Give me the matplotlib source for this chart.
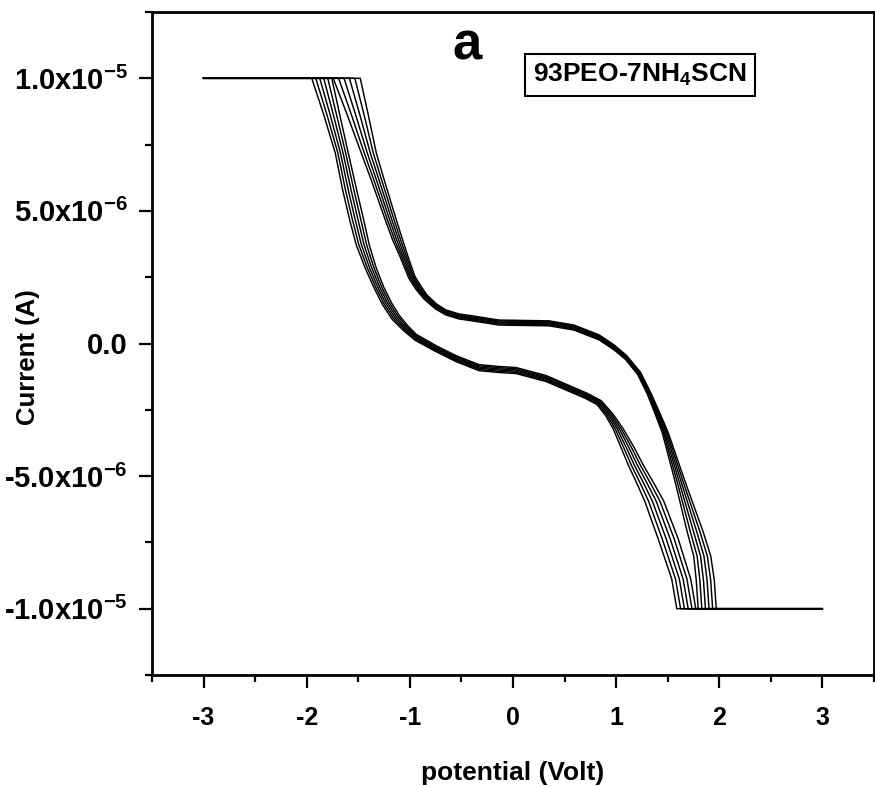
import numpy as np
import matplotlib
matplotlib.use("Agg")
import matplotlib.pyplot as plt
from matplotlib.ticker import MultipleLocator

plt.rcParams['font.family'] = ['Liberation Sans', 'DejaVu Sans']
plt.rcParams['font.weight'] = 'bold'
plt.rcParams['mathtext.fontset'] = 'custom'
plt.rcParams['mathtext.rm'] = 'Liberation Sans:bold'
plt.rcParams['mathtext.it'] = 'Liberation Sans:bold'
plt.rcParams['mathtext.bf'] = 'Liberation Sans:bold'
plt.rcParams['mathtext.sf'] = 'Liberation Sans:bold'

# ---------------- data (potential in V, current in 1e-6 A) ----------------
# Upper branch (mid-line of the band of cycles)
upper_v = [-1.612, -1.505, -1.398, -1.311, -1.184, -1.117, -1.058, -0.981, -0.913,
           -0.845, -0.748, -0.650, -0.524, -0.398, -0.136, 0.350, 0.592, 0.835,
           0.981, 1.097, 1.223, 1.320, 1.398, 1.476, 1.621, 1.767, 1.835, 1.864, 1.883]
upper_i = [10.00, 8.62, 7.18, 6.16, 4.65, 3.89, 3.29, 2.50, 2.08,
           1.74, 1.40, 1.17, 1.02, 0.95, 0.79, 0.76, 0.60, 0.23,
           -0.15, -0.53, -1.13, -1.89, -2.61, -3.36, -5.22, -7.11, -8.02, -8.92, -10.0]
# width of the band of cycles around the upper branch (V and 1e-6 A)
upper_dv = [0.262, 0.204, 0.146, 0.126, 0.107, 0.097, 0.078, 0.058, 0.049,
            0.029, 0.010, 0.0, 0.0, 0.0, 0.0, 0.0, 0.0, 0.0,
            0.0, 0.010, 0.029, 0.039, 0.049, 0.058, 0.097, 0.155, 0.165, 0.175, 0.175]
upper_di = [0.0, 0.0, 0.0, 0.0, 0.0, 0.0, 0.0, 0.076, 0.113,
            0.151, 0.189, 0.189, 0.189, 0.189, 0.189, 0.189, 0.189, 0.189,
            0.189, 0.151, 0.076, 0.0, 0.0, 0.0, 0.0, 0.0, 0.0, 0.0, 0.0]

# Lower branch
lower_v = [-1.854, -1.757, -1.660, -1.583, -1.515, -1.456, -1.379, -1.301, -1.223,
           -1.136, -1.039, -0.942, -0.748, -0.553, -0.330, -0.136, 0.029, 0.320,
           0.709, 0.835, 0.932, 1.019, 1.107, 1.194, 1.282, 1.369, 1.505, 1.631, 1.680]
lower_i = [10.00, 8.62, 7.18, 5.78, 4.65, 3.71, 2.84, 2.12, 1.51,
           0.98, 0.57, 0.23, -0.19, -0.57, -0.91, -0.98, -1.02, -1.32,
           -1.97, -2.23, -2.68, -3.21, -3.89, -4.61, -5.26, -5.94, -7.37, -8.88, -10.0]
lower_dv = [0.194, 0.155, 0.126, 0.136, 0.136, 0.126, 0.107, 0.097, 0.087,
            0.068, 0.039, 0.010, 0.0, 0.0, 0.0, 0.0, 0.0, 0.0,
            0.019, 0.039, 0.068, 0.097, 0.126, 0.146, 0.165, 0.184, 0.194, 0.184, 0.184]
lower_di = [0.0, 0.0, 0.0, 0.0, 0.0, 0.0, 0.0, 0.0, 0.076,
            0.151, 0.189, 0.227, 0.227, 0.227, 0.227, 0.227, 0.227, 0.227,
            0.189, 0.151, 0.076, 0.0, 0.0, 0.0, 0.0, 0.0, 0.0, 0.0, 0.0]

# position of each of the six cycles inside the band
cycle_pos = [-0.5, -0.3, -0.1, 0.1, 0.3, 0.5]

sweep_limits = [-3.0, 3.0]       # V
compliance = [10.0, -10.0]       # 1e-6 A

x_ticks = [-3, -2, -1, 0, 1, 2, 3]
x_tick_labels = ['-3', '-2', '-1', '0', '1', '2', '3']
y_ticks = [-1.0e-5, -5.0e-6, 0.0, 5.0e-6, 1.0e-5]
y_tick_labels = ['-1.0x10$^{-5}$', '-5.0x10$^{-6}$', '0.0', '5.0x10$^{-6}$', '1.0x10$^{-5}$']

# ---------------- figure ----------------
fig = plt.figure(figsize=(8.75, 7.87), dpi=100)
ax = fig.add_axes([152 / 875, 1 - 675 / 787, 722 / 875, 663 / 787])

uv, ui = np.array(upper_v), np.array(upper_i)
udv, udi = np.array(upper_dv), np.array(upper_di)
lv, li = np.array(lower_v), np.array(lower_i)
ldv, ldi = np.array(lower_dv), np.array(lower_di)

for f in cycle_pos:
    xl = lv + f * ldv
    yl = li + f * ldi
    xu = uv + f * udv
    yu = ui + f * udi
    xs = np.concatenate([[sweep_limits[0]], xl, [sweep_limits[1]], xu[::-1], [sweep_limits[0]]])
    ys = np.concatenate([[compliance[0]], yl, [compliance[1]], yu[::-1], [compliance[0]]])
    ax.plot(xs, ys * 1e-6, color='black', lw=1.05, solid_joinstyle='round')

ax.set_xlim(-3.5, 3.5)
ax.set_ylim(-1.25e-5, 1.25e-5)

ax.set_xticks(x_ticks)
ax.set_xticklabels(x_tick_labels)
ax.set_yticks(y_ticks)
ax.set_yticklabels(y_tick_labels)
ax.xaxis.set_minor_locator(MultipleLocator(0.5))
ax.yaxis.set_minor_locator(MultipleLocator(2.5e-6))

for s in ax.spines.values():
    s.set_linewidth(2.0)
ax.tick_params(axis='both', which='major', direction='out', length=9.5, width=1.6,
               top=False, right=False)
ax.tick_params(axis='both', which='minor', direction='out', length=5, width=1.6,
               top=False, right=False)
ax.tick_params(axis='x', which='major', labelsize=18, pad=13)
ax.tick_params(axis='y', which='major', labelsize=21, pad=8)
for lab in ax.get_xticklabels() + ax.get_yticklabels():
    lab.set_fontweight('bold')

ax.set_xlabel('potential (Volt)', fontsize=19, fontweight='bold', labelpad=22)
ax.set_ylabel('Current (A)', fontsize=18.5, fontweight='bold')
ax.yaxis.set_label_coords(-0.155, 0.48)

ax.text(0.436, 0.950, 'a', transform=ax.transAxes, fontsize=38, fontweight='bold',
        ha='center', va='center')
ax.text(0.676, 0.905, '93PEO-7NH$_4$SCN', transform=ax.transAxes, fontsize=19,
        fontweight='bold', ha='center', va='center',
        bbox=dict(boxstyle='square,pad=0.3', facecolor='white', edgecolor='black', lw=1.5))

fig.savefig('out.png', dpi=100)
